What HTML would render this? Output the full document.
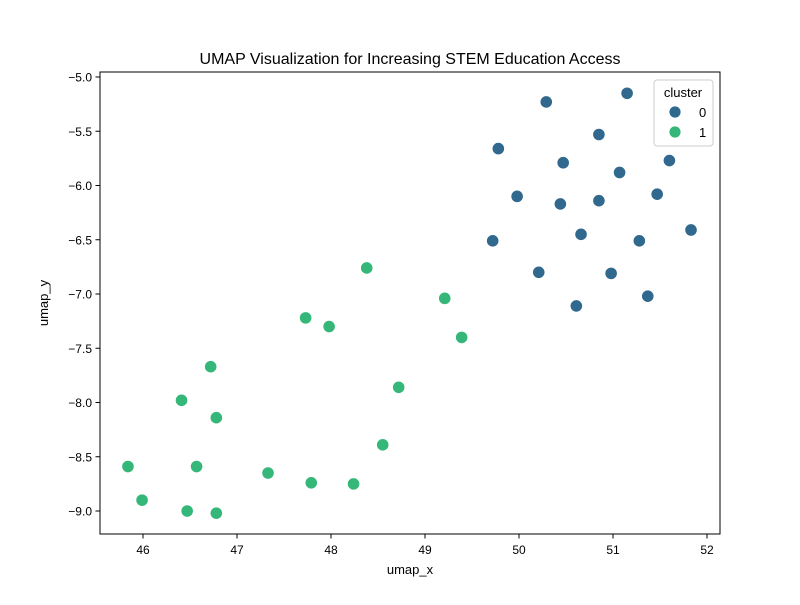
<!DOCTYPE html>
<html><head><meta charset="utf-8"><style>
body{margin:0;background:#fff;}
svg text{font-family:"Liberation Sans","DejaVu Sans",sans-serif;fill:#000;}
</style></head><body>
<svg id="chart" width="800" height="600" xmlns="http://www.w3.org/2000/svg">
<rect width="800" height="600" fill="#fff"/>
<text x="410" y="64" font-size="16" text-anchor="middle">UMAP Visualization for Increasing STEM Education Access</text>
<g id="ticks"></g>
<g id="points"></g>
<rect x="100" y="72" width="620" height="462" fill="none" stroke="#000" stroke-width="1"/>
<text x="410" y="574" font-size="13" text-anchor="middle">umap_x</text>
<text x="48" y="303" font-size="13" text-anchor="middle" transform="rotate(-90 48 303)">umap_y</text>
<g>
<rect x="654" y="80" width="59" height="66" rx="3" fill="#fff" fill-opacity="0.8" stroke="#ccc"/>
<text x="683" y="97" font-size="13" text-anchor="middle">cluster</text>
<g><circle cx="675" cy="112" r="6" fill="#31688e" stroke="#fff" stroke-width="0.8"/><text x="699" y="117" font-size="13">0</text></g>
<g><circle cx="675" cy="132" r="6" fill="#35b779" stroke="#fff" stroke-width="0.8"/><text x="699" y="137" font-size="13">1</text></g>
</g>
</svg>
<script>
const xTicks=[46,47,48,49,50,51,52];
const yTicks=[-5.0,-5.5,-6.0,-6.5,-7.0,-7.5,-8.0,-8.5,-9.0];
const x0=[50.29,51.15,49.78,50.85,50.47,51.6,51.07,49.98,50.44,50.85,51.47,49.72,50.66,51.28,51.83,50.21,50.98,50.61,51.37];
const y0=[-5.23,-5.15,-5.66,-5.53,-5.79,-5.77,-5.88,-6.10,-6.17,-6.14,-6.08,-6.51,-6.45,-6.51,-6.41,-6.80,-6.81,-7.11,-7.02];
const x1=[48.38,49.21,47.73,47.98,49.39,46.72,48.72,46.41,46.78,48.55,45.84,46.57,47.33,45.99,47.79,48.24,46.47,46.78];
const y1=[-6.76,-7.04,-7.22,-7.30,-7.40,-7.67,-7.86,-7.98,-8.14,-8.39,-8.59,-8.59,-8.65,-8.90,-8.74,-8.75,-9.00,-9.02];
function sx(v){return 143+(v-46)*94;}
function sy(v){return 77+(-5-v)*108.5;}
const NS="http://www.w3.org/2000/svg";
const tg=document.getElementById('ticks');
function mk(tag,attrs,parent){const e=document.createElementNS(NS,tag);for(const k in attrs)e.setAttribute(k,attrs[k]);parent.appendChild(e);return e;}
xTicks.forEach(t=>{
  const X=sx(t);
  const l=mk('line',{x1:X,x2:X,y1:534,y2:538.5,stroke:'#000'},tg);
  
  
  const tx=mk('text',{x:X,y:554,'font-size':12,'text-anchor':'middle'},tg);
  tx.textContent=t;
  
  
});
yTicks.forEach(t=>{
  const Y=sy(t);
  const l=mk('line',{x1:95.5,x2:100,y1:Y,y2:Y,stroke:'#000'},tg);
  
  
  const tx=mk('text',{x:92,y:Y+4.5,'font-size':12,'text-anchor':'end'},tg);
  tx.textContent='\u2212'+Math.abs(t).toFixed(1);
  
  
});
const pg=document.getElementById('points');
[[x0,y0,'#31688e','cluster-0-point'],[x1,y1,'#35b779','cluster-1-point']].forEach(([xs,ys,c,n])=>{
  xs.forEach((v,i)=>{
    const p=mk('circle',{cx:sx(v),cy:sy(ys[i]),r:6.2,fill:c,stroke:'#fff','stroke-width':0.8},pg);
    
    
  });
});
</script>
</body></html>
